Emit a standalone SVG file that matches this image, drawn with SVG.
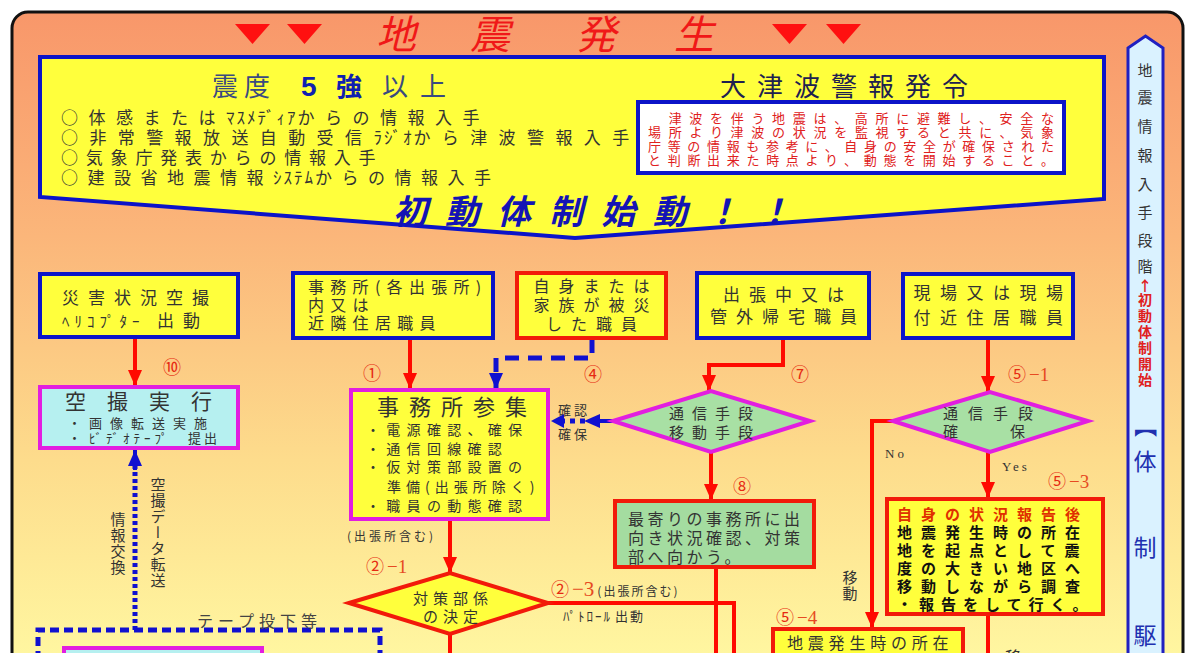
<svg xmlns="http://www.w3.org/2000/svg" width="1189" height="653" viewBox="0 0 1189 653">
<defs>
<linearGradient id="bg" gradientUnits="userSpaceOnUse" x1="0" y1="12" x2="0" y2="653">
<stop offset="0" stop-color="#F8976A"/>
<stop offset="0.35" stop-color="#FBB67A"/>
<stop offset="0.7" stop-color="#FDDC8C"/>
<stop offset="1" stop-color="#FFF6A0"/>
</linearGradient>
<marker id="ar" viewBox="0 0 16 14" refX="16" refY="7" markerWidth="16" markerHeight="14" markerUnits="userSpaceOnUse" orient="auto"><path d="M0,0 L16,7 L0,14 z" fill="#FF0A00"/></marker>
<marker id="ab" viewBox="0 0 16 14" refX="16" refY="7" markerWidth="16" markerHeight="14" markerUnits="userSpaceOnUse" orient="auto"><path d="M0,0 L16,7 L0,14 z" fill="#1010D0"/></marker>
<style>
text{font-family:"Noto Sans CJK JP","Noto Sans CJK SC",sans-serif;fill:#333333}
.yb{fill:#FFFF3C;stroke:#0C14C8;stroke-width:4}
.yr{fill:#FFFF3C;stroke:#F21A0A;stroke-width:4}
.ym{fill:#FFFF3C;stroke:#E21EE0;stroke-width:4}
.cm{fill:#B6F0F0;stroke:#E21EE0;stroke-width:4}
.gm{fill:#A8E0A4;stroke:#E21EE0;stroke-width:4}
.gr{fill:#A4DCA0;stroke:#F21A0A;stroke-width:4}
.rl{fill:none;stroke:#FF0A00;stroke-width:4}
.bd{fill:none;stroke:#1010D0;stroke-width:5}
.n{fill:#E62A12;font-size:18px}
.m{font-family:"Liberation Serif",serif;fill:#E64A22;font-size:19px}
.tri{fill:#FF1010}
.vb{font-size:15px;text-anchor:middle;fill:#333}
.vr{font-size:14px;text-anchor:middle;fill:#E02020;font-weight:bold}
.vB{font-size:23px;text-anchor:middle;fill:#2030B0}
.rp{font-size:15px;letter-spacing:9px;font-weight:bold;fill:#111}
</style>
</defs>
<rect x="0" y="0" width="1189" height="653" fill="#FFFFFF"/>
<rect x="12" y="12" width="1171" height="720" rx="16" fill="url(#bg)" stroke="#111" stroke-width="3"/>

<g id="title">
<polygon class="tri" points="235,24 270,24 252.5,44"/>
<polygon class="tri" points="287,24 322,24 304.5,44"/>
<polygon class="tri" points="772,24 807,24 789.5,44"/>
<polygon class="tri" points="826,24 861,24 843.5,44"/>
<text x="376 470 576 674" y="49" style="font-size:40px;font-style:italic;fill:#F01818">地震発生</text>
</g>

<g id="banner">
<polygon points="40,57 1104,57 1104,199 575,238 40,197" fill="#FFFF3C" stroke="#0C14C8" stroke-width="4"/>
<text y="96" style="font-size:26px;fill:#3A4A80"><tspan x="212">震</tspan><tspan x="244">度</tspan><tspan x="301" style="font-family:'Liberation Sans',sans-serif;font-weight:bold;fill:#1020B0;font-size:28px">5</tspan><tspan x="336" style="font-weight:bold;fill:#1020B0">強</tspan><tspan x="382">以</tspan><tspan x="420">上</tspan></text>
<text x="61" y="124" style="font-size:17px;letter-spacing:10.5px">○体感または<tspan style="letter-spacing:2px">ﾏｽﾒﾃﾞｨｱ</tspan>からの情報入手</text>
<text x="61" y="144" style="font-size:17px;letter-spacing:11.4px">○非常警報放送自動受信<tspan style="letter-spacing:2px">ﾗｼﾞｵ</tspan>から津波警報入手</text>
<text x="61" y="164" style="font-size:17px;letter-spacing:7.8px">○気象庁発表からの情報入手</text>
<text x="61" y="184" style="font-size:17px;letter-spacing:9.5px">○建設省地震情報<tspan style="letter-spacing:2px">ｼｽﾃﾑ</tspan>からの情報入手</text>
<text x="720" y="96" style="font-size:26px;letter-spacing:11px;fill:#202050">大津波警報発令</text>
<rect x="638" y="102" width="426" height="71" fill="#FFFFFF" stroke="#0C14C8" stroke-width="4"/>
<g style="font-size:13px;fill:#E02020">
<text x="648" y="123" textLength="406" lengthAdjust="spacing" style="fill:#E02020">　津波を伴う地震は、高所に避難し、安全な</text>
<text x="648" y="137" textLength="406" lengthAdjust="spacing" style="fill:#E02020">場所より津波の状況を監視すると共に、気象</text>
<text x="648" y="151" textLength="406" lengthAdjust="spacing" style="fill:#E02020">庁等の情報も参考に、自身の安全が確保された</text>
<text x="648" y="165" textLength="406" lengthAdjust="spacing" style="fill:#E02020">と判断出来た時点より、動態を開始すること。</text>
</g>
<text x="393" y="224" style="font-size:34px;font-style:italic;font-weight:bold;letter-spacing:18px;fill:#1414B4">初動体制始動！！</text>
</g>

<g id="sidebar">
<polygon points="1128,48 1145.5,36 1163,48 1163,700 1128,700" fill="#DAF2FF" stroke="#2020C0" stroke-width="3"/>
<text class="vb" x="1145" y="76">地</text>
<text class="vb" x="1145" y="103">震</text>
<text class="vb" x="1145" y="132">情</text>
<text class="vb" x="1145" y="161">報</text>
<text class="vb" x="1145" y="190">入</text>
<text class="vb" x="1145" y="218">手</text>
<text class="vb" x="1145" y="246">段</text>
<text class="vb" x="1145" y="272">階</text>
<text class="vr" x="1145" y="291">↑</text>
<text class="vr" x="1145" y="305">初</text>
<text class="vr" x="1145" y="321">動</text>
<text class="vr" x="1145" y="337">体</text>
<text class="vr" x="1145" y="353">制</text>
<text class="vr" x="1145" y="369">開</text>
<text class="vr" x="1145" y="385">始</text>
<text x="1145" y="434" text-anchor="middle" transform="rotate(90 1145 426)" style="font-size:23px;fill:#2030B0">【</text>
<text class="vB" x="1145" y="470">体</text>
<text class="vB" x="1145" y="556">制</text>
<text class="vB" x="1145" y="644">駆</text>
</g>

<g id="connectors">
<line class="rl" x1="135" y1="338" x2="135" y2="386" marker-end="url(#ar)"/>
<line class="bd" x1="135" y1="630" x2="135" y2="466" stroke-dasharray="4 3"/>
<line x1="135" y1="470" x2="135" y2="450" stroke="#1010D0" stroke-width="4" marker-end="url(#ab)"/>
<path class="bd" d="M38,660 V630 H380 V660" stroke-dasharray="9 5"/>
<line class="rl" x1="410" y1="338" x2="410" y2="389" marker-end="url(#ar)"/>
<path class="bd" d="M592,339 V358 H496 V389" stroke-dasharray="14 9" marker-end="url(#ab)"/>
<path class="rl" d="M783,339 V365 H709 V391" marker-end="url(#ar)"/>
<line class="bd" x1="585" y1="421" x2="562" y2="421" stroke-dasharray="5 5" stroke-width="4"/>
<polygon points="551,421 564,414 564,428" fill="#1010D0"/>
<polygon points="584,421 600,414 600,428" fill="#1010D0"/>
<line x1="598" y1="421" x2="613" y2="421" stroke="#1010D0" stroke-width="4"/>
<line class="rl" x1="711" y1="452" x2="711" y2="500" marker-end="url(#ar)"/>
<line class="rl" x1="450" y1="519" x2="450" y2="573" marker-end="url(#ar)"/>
<line class="rl" x1="450" y1="634" x2="450" y2="660"/>
<path class="rl" d="M547,603 H734 V660"/>
<line class="rl" x1="716" y1="567" x2="716" y2="660"/>
<line class="rl" x1="988" y1="338" x2="988" y2="392" marker-end="url(#ar)"/>
<path class="rl" d="M893,421 H872 V628" marker-end="url(#ar)"/>
<line class="rl" x1="988" y1="452" x2="988" y2="498" marker-end="url(#ar)"/>
<line class="rl" x1="988" y1="614" x2="988" y2="660"/>
</g>

<g id="labels">
<text class="n" x="172" y="374" text-anchor="middle">⑩</text>
<text class="n" x="372" y="380" text-anchor="middle">①</text>
<text class="n" x="593" y="381" text-anchor="middle">④</text>
<text class="n" x="800" y="381" text-anchor="middle">⑦</text>
<text class="n" x="742" y="493" text-anchor="middle">⑧</text>
<text x="366" y="573"><tspan class="n">②</tspan><tspan class="m" dx="3">−1</tspan></text>
<text x="551" y="596"><tspan class="n">②</tspan><tspan class="m" dx="3" style="font-size:21px">−3</tspan><tspan dx="3" style="font-size:12px;letter-spacing:2px">(出張所含む)</tspan></text>
<text x="563" y="621" style="font-size:13px"><tspan style="letter-spacing:2px">ﾊﾟﾄﾛｰﾙ</tspan><tspan dx="3" style="letter-spacing:2px">出動</tspan></text>
<text x="347" y="541" style="font-size:12px;letter-spacing:3px">(出張所含む)</text>
<text x="558" y="415" style="font-size:13px;letter-spacing:3px">確認</text>
<text x="558" y="439" style="font-size:13px;letter-spacing:3px">確保</text>
<text x="1008" y="381"><tspan class="n">⑤</tspan><tspan class="m" dx="3">−1</tspan></text>
<text x="1048" y="488"><tspan class="n">⑤</tspan><tspan class="m" dx="3">−3</tspan></text>
<text x="776" y="624"><tspan class="n">⑤</tspan><tspan class="m" dx="3">−4</tspan></text>
<text x="885" y="458" style="font-family:'Liberation Serif',serif;font-size:13px;letter-spacing:3px">No</text>
<text x="1002" y="471" style="font-family:'Liberation Serif',serif;font-size:13px;letter-spacing:3px">Yes</text>
<text x="850" y="583" text-anchor="middle" style="font-size:15px">移</text>
<text x="850" y="599" text-anchor="middle" style="font-size:15px">動</text>
<text x="1013" y="663" text-anchor="middle" style="font-size:16px">移</text>
<text x="158" y="477" style="writing-mode:vertical-rl;font-size:15px;letter-spacing:1px">空撮データ転送</text>
<text x="118" y="512" style="writing-mode:vertical-rl;font-size:15px;letter-spacing:1px">情報交換</text>
<text x="197" y="627" style="font-size:16px;letter-spacing:5px;fill:#444">テープ投下等</text>
</g>

<g id="n-heli">
<rect class="yb" x="40" y="274" width="198" height="63"/>
<text x="62" y="304" style="font-size:17px;letter-spacing:9px">災害状況空撮</text>
<text x="62" y="327" style="font-size:15px"><tspan style="letter-spacing:5px">ﾍﾘｺﾌﾟﾀｰ</tspan><tspan x="157" style="font-size:17px;letter-spacing:9px">出動</tspan></text>
</g>

<g id="n-aerial">
<rect class="cm" x="40" y="387" width="198" height="61"/>
<text x="65" y="409" style="font-size:21px;letter-spacing:21px">空撮実行</text>
<text x="68" y="428" style="font-size:13px;letter-spacing:8px">・画像転送実施</text>
<text x="68" y="443" style="font-size:13px"><tspan style="letter-spacing:8px">・</tspan><tspan style="letter-spacing:4px">ﾋﾞﾃﾞｵﾃｰﾌﾟ</tspan><tspan x="188" style="letter-spacing:3px">提出</tspan></text>
</g>

<g id="n-bottomleft">
<rect class="cm" x="64" y="648" width="198" height="40"/>
</g>

<g id="n-office-staff">
<rect class="yb" x="293" y="273" width="200" height="65"/>
<text x="308" y="293" style="font-size:16px;letter-spacing:6.3px">事務所(各出張所)</text>
<text x="308" y="311" style="font-size:16px;letter-spacing:6.3px">内又は</text>
<text x="308" y="329" style="font-size:16px;letter-spacing:6.3px">近隣住居職員</text>
</g>

<g id="n-victim">
<rect class="yr" x="517" y="273" width="149" height="65"/>
<text x="596" y="292" text-anchor="middle" style="font-size:16px;letter-spacing:9px">自身または</text>
<text x="596" y="311" text-anchor="middle" style="font-size:16px;letter-spacing:9px">家族が被災</text>
<text x="596" y="330" text-anchor="middle" style="font-size:16px;letter-spacing:9px">した職員</text>
</g>

<g id="n-travel">
<rect class="yb" x="697" y="273" width="172" height="65"/>
<text x="788" y="301" text-anchor="middle" style="font-size:17px;letter-spacing:9px">出張中又は</text>
<text x="788" y="323" text-anchor="middle" style="font-size:17px;letter-spacing:9px">管外帰宅職員</text>
</g>

<g id="n-site">
<rect class="yb" x="903" y="274" width="170" height="64"/>
<text x="993" y="299" text-anchor="middle" style="font-size:17px;letter-spacing:9.5px">現場又は現場</text>
<text x="993" y="324" text-anchor="middle" style="font-size:17px;letter-spacing:9.5px">付近住居職員</text>
</g>

<g id="n-assemble">
<rect class="ym" x="351" y="390" width="197" height="129"/>
<text x="377" y="415" style="font-size:22px;letter-spacing:10px">事務所参集</text>
<text x="366" y="435" style="font-size:14px;letter-spacing:6.3px">・電源確認、確保</text>
<text x="366" y="454" style="font-size:14px;letter-spacing:6.3px">・通信回線確認</text>
<text x="366" y="472" style="font-size:14px;letter-spacing:6.3px">・仮対策部設置の</text>
<text x="387" y="492" style="font-size:14px;letter-spacing:5px">準備(出張所除く)</text>
<text x="366" y="511" style="font-size:14px;letter-spacing:6.3px">・職員の動態確認</text>
</g>

<g id="n-comm1">
<polygon class="gm" points="613,421 711,391 810,421 711,452"/>
<text x="715" y="419" text-anchor="middle" style="font-size:15px;letter-spacing:8px">通信手段</text>
<text x="715" y="438" text-anchor="middle" style="font-size:15px;letter-spacing:8px">移動手段</text>
</g>

<g id="n-nearest">
<rect class="gr" x="615" y="501" width="199" height="66"/>
<text x="628" y="525" style="font-size:16px;letter-spacing:3.5px">最寄りの事務所に出</text>
<text x="628" y="544" style="font-size:16px;letter-spacing:3.5px">向き状況確認、対策</text>
<text x="628" y="563" style="font-size:16px;letter-spacing:3.5px">部へ向かう。</text>
</g>

<g id="n-decide">
<polygon points="349,603 450,573 548,603 450,634" fill="#FFFF3C" stroke="#F21A0A" stroke-width="4"/>
<text x="453" y="604" text-anchor="middle" style="font-size:15px;letter-spacing:5px">対策部係</text>
<text x="453" y="622" text-anchor="middle" style="font-size:15px;letter-spacing:5px">の決定</text>
</g>

<g id="n-comm2">
<polygon class="gm" points="893,421 990,392 1088,421 990,452"/>
<text x="993" y="419" text-anchor="middle" style="font-size:15px;letter-spacing:10px">通信手段</text>
<text x="943" y="437" style="font-size:15px">確</text>
<text x="1010" y="437" style="font-size:15px">保</text>
</g>

<g id="n-report">
<rect class="yr" x="887" y="499" width="216" height="115"/>
<text class="rp" x="897" y="520" style="fill:#E03000">自身の状況報告後</text>
<text class="rp" x="897" y="538">地震発生時の所在</text>
<text class="rp" x="897" y="556">地を起点として震</text>
<text class="rp" x="897" y="574">度の大きい地区へ</text>
<text class="rp" x="897" y="592">移動しながら調査</text>
<text class="rp" x="897" y="610" style="letter-spacing:7px">・報告をして行く。</text>
</g>

<g id="n-move">
<rect class="yr" x="773" y="629" width="190" height="60"/>
<text x="787" y="649" style="font-size:16px;letter-spacing:4.8px">地震発生時の所在</text>
</g>
</svg>
